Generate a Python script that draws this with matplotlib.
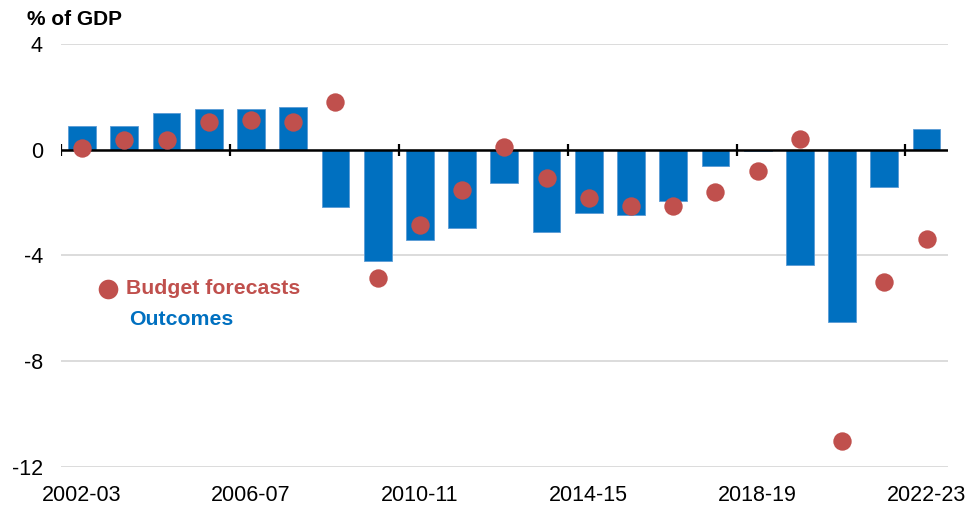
import matplotlib
matplotlib.use("Agg")
import matplotlib.pyplot as plt
import numpy as np

years = ["2002-03", "2003-04", "2004-05", "2005-06", "2006-07", "2007-08", "2008-09",
         "2009-10", "2010-11", "2011-12", "2012-13", "2013-14", "2014-15", "2015-16",
         "2016-17", "2017-18", "2018-19", "2019-20", "2020-21", "2021-22", "2022-23"]
outcomes = [0.9, 0.9, 1.4, 1.55, 1.55, 1.6, -2.15, -4.2, -3.4, -2.95, -1.25, -3.1,
            -2.4, -2.45, -1.93, -0.6, -0.05, -4.36, -6.5, -1.4, 0.8]
forecasts = [0.05, 0.35, 0.35, 1.05, 1.13, 1.05, 1.8, -4.85, -2.85, -1.52, 0.1, -1.07,
             -1.83, -2.12, -2.12, -1.6, -0.8, 0.4, -11.0, -5.0, -3.37]
yticks = [4, 0, -4, -8, -12]

BLUE = "#0070C0"
RED = "#C0504D"

plt.rcParams['font.family'] = ['Liberation Sans', 'DejaVu Sans']

fig = plt.figure(figsize=(9.68, 5.09), dpi=100)
ax = fig.add_axes([0.063, 0.0825, 0.916, 0.8311])

x = np.arange(len(years))
ax.bar(x, outcomes, width=0.66, color=BLUE, edgecolor="#5B9BD5", linewidth=0.6, zorder=2)
ax.scatter(x, forecasts, s=175, color=RED, zorder=4, linewidths=0)

ax.set_xlim(-0.5, len(years) - 0.5)
ax.set_ylim(-12, 4)
ax.set_yticks(yticks)
ax.set_yticklabels([str(v) for v in yticks], fontsize=15.5)
ax.yaxis.grid(True, color="#D9D9D9", linewidth=1.3, zorder=0)
ax.set_axisbelow(True)
ax.tick_params(axis="y", length=0, pad=13)

ax.set_xticks(x[::4])
ax.set_xticklabels([years[i] for i in range(0, len(years), 4)], fontsize=15.5)
ax.tick_params(axis="x", length=0, pad=13)

for s in ax.spines.values():
    s.set_visible(False)

# zero line with category-boundary ticks
ax.axhline(0, color="black", linewidth=1.8, zorder=3)
bounds = np.arange(-0.5, len(years), 4)
ax.vlines(bounds, -0.23, 0.23, color="black", linewidth=1.6, zorder=3)

fig.text(0.028, 0.98, "% of GDP", fontsize=15, fontweight="bold", va="top", ha="left")

# legend
ax.scatter([0.61], [-5.26], s=200, color=RED, linewidths=0, clip_on=False, zorder=5)
ax.text(1.04, -5.26, "Budget forecasts", color=RED, fontsize=15.3, fontweight="bold",
        va="center", ha="left")
ax.text(1.11, -6.42, "Outcomes", color=BLUE, fontsize=15.3, fontweight="bold",
        va="center", ha="left")

fig.savefig("out.png", dpi=100)
